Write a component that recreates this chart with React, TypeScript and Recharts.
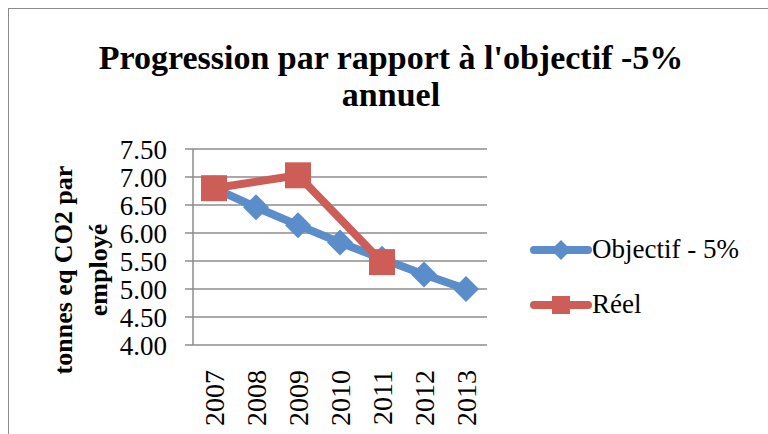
import { LineChart, Line, XAxis, YAxis, CartesianGrid } from 'recharts';

const years = [2007, 2008, 2009, 2010, 2011, 2012, 2013];
const objectif = [6.8, 6.46, 6.14, 5.83, 5.54, 5.26, 5.0];
const reel: (number | null)[] = [6.8, null, 7.03, null, 5.48, null, null];
const yTicks = [4, 4.5, 5, 5.5, 6, 6.5, 7, 7.5];
const edgeTicks = [2006.5, 2007.5, 2008.5, 2009.5, 2010.5, 2011.5, 2012.5, 2013.5];

const BLUE = '#5A8DC9';
const RED = '#CC5E57';
const GRID = '#8C8C8C';
const SERIF = '"Liberation Serif", "DejaVu Serif", serif';

const data = years.map((year, i) => ({ year, objectif: objectif[i], reel: reel[i] }));

function Diamond(props: any) {
  const { cx, cy } = props;
  if (cx == null || cy == null) return <g />;
  const r = 13;
  return <polygon points={`${cx},${cy - r} ${cx + r},${cy} ${cx},${cy + r} ${cx - r},${cy}`} fill={BLUE} />;
}

function Square(props: any) {
  const { cx, cy } = props;
  if (cx == null || cy == null) return <g />;
  const s = 13;
  return <rect x={cx - s} y={cy - s} width={s * 2} height={s * 2} fill={RED} />;
}

function YearTick(props: any) {
  const { x, y, payload } = props;
  return (
    <text x={x} y={y + 17} transform={`rotate(-90 ${x} ${y + 17})`} textAnchor="end" dy="0.35em"
      fontFamily={SERIF} fontSize={28} fill="#000">
      {payload.value}
    </text>
  );
}

function LegendBox() {
  const rows = [
    { name: 'Objectif - 5%', color: BLUE, shape: 'diamond' },
    { name: 'Réel', color: RED, shape: 'square' },
  ];
  return (
    <div style={{ position: 'absolute', left: 530, top: 222 }}>
      {rows.map((r) => (
        <div key={r.name} style={{ display: 'flex', alignItems: 'center', height: 55 }}>
          <svg width={62} height={30}>
            <line x1={4} y1={15} x2={58} y2={15} stroke={r.color} strokeWidth={8} strokeLinecap="round" />
            {r.shape === 'diamond'
              ? <polygon points="31,5 41,15 31,25 21,15" fill={r.color} />
              : <rect x={22} y={6} width={18} height={18} fill={r.color} />}
          </svg>
          <span style={{ fontFamily: SERIF, fontSize: 27, color: '#000', whiteSpace: 'nowrap' }}>{r.name}</span>
        </div>
      ))}
    </div>
  );
}

export default function App() {
  return (
    <div style={{ position: 'absolute', left: 0, top: 0, width: 768, height: 434, background: '#fff', overflow: 'hidden' }}>
      <div style={{ position: 'absolute', left: 8, top: 8, width: 800, height: 500, borderTop: `1.5px solid ${GRID}`, borderLeft: `1.5px solid ${GRID}` }} />
      <div style={{ position: 'absolute', left: 0, top: 39, width: 782, textAlign: 'center', fontFamily: SERIF, fontWeight: 'bold', fontSize: 34, lineHeight: '37px', color: '#000' }}>
        Progression par rapport à l'objectif -5%<br />annuel
      </div>
      <div style={{ position: 'absolute', left: 81, top: 270, width: 0, height: 0 }}>
        <div style={{ position: 'absolute', transform: 'translate(-50%, -50%) rotate(-90deg)', whiteSpace: 'nowrap', textAlign: 'center', fontFamily: SERIF, fontWeight: 'bold', fontSize: 26, lineHeight: '35px', color: '#000' }}>
          tonnes eq CO2 par<br />employé
        </div>
      </div>
      <LineChart width={768} height={434} data={data} margin={{ top: 149, right: 281, bottom: 0, left: 133 }}
        style={{ position: 'absolute', left: 0, top: 0 }}>
        <CartesianGrid vertical={false} stroke={GRID} strokeWidth={1.5} xAxisId="edges" />
        <XAxis xAxisId="edges" dataKey="year" type="number" domain={[2006.5, 2013.5]} ticks={edgeTicks}
          tick={false} height={0} stroke={GRID} strokeWidth={1.5} tickSize={8} allowDataOverflow />
        <XAxis xAxisId="years" dataKey="year" type="number" domain={[2006.5, 2013.5]} ticks={years}
          axisLine={false} tickLine={false} tick={<YearTick />} height={89} interval={0} />
        <YAxis domain={[4, 7.5]} ticks={yTicks} width={60} tickFormatter={(v: number) => v.toFixed(2)}
          stroke={GRID} strokeWidth={1.5} tickSize={8} tickMargin={18}
          tick={{ fontFamily: SERIF, fontSize: 27, fill: '#000' }} interval={0} />
        <Line xAxisId="years" dataKey="objectif" name="Objectif - 5%" stroke={BLUE} strokeWidth={8}
          dot={<Diamond />} activeDot={false} isAnimationActive={false} />
        <Line xAxisId="years" dataKey="reel" name="Réel" stroke={RED} strokeWidth={8} connectNulls
          dot={<Square />} activeDot={false} isAnimationActive={false} />
      </LineChart>
      <LegendBox />
    </div>
  );
}
